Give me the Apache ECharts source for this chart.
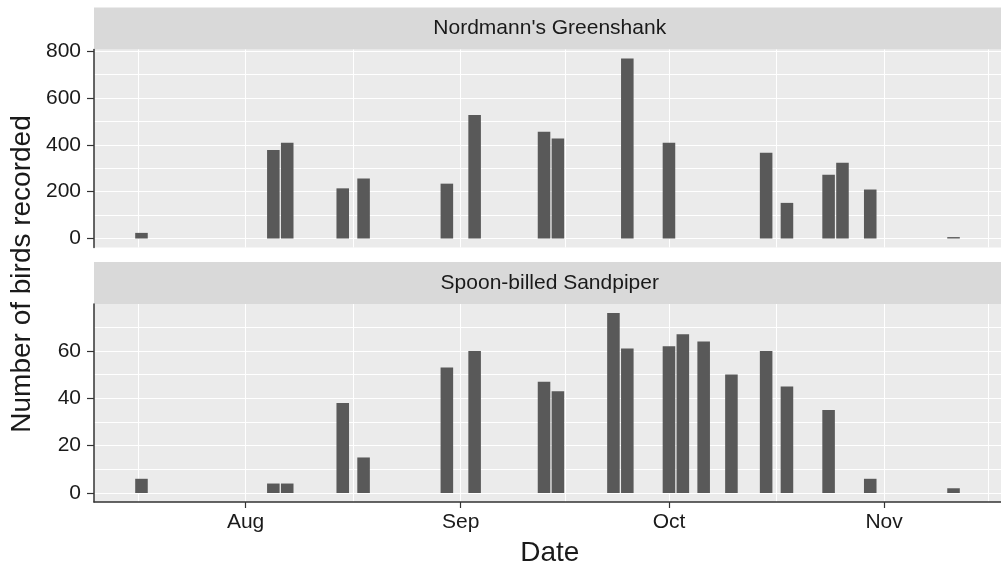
<!DOCTYPE html>
<html>
<head>
<meta charset="utf-8">
<script src="https://cdn.jsdelivr.net/npm/echarts@6/dist/echarts.min.js"></script>
<style>
html,body{margin:0;padding:0;background:#ffffff;}
#chart{width:1001px;height:574px;}
</style>
</head>
<body>
<div id="chart"></div>
<script>
// ---------------- data ----------------
const YEAR = 2016;
const dates = ['07-17','08-05','08-07','08-15','08-18','08-30','09-03','09-13','09-15','09-23','09-25',
               '10-01','10-03','10-06','10-10','10-15','10-18','10-24','10-26','10-30','11-11'];
const greenshank = [24, 378, 409, 214, 256, 234, 527, 456, 427, null, 768,
                    409, null, null, null, 366, 152, 272, 323, 209, 6];
const sandpiper  = [6, 4, 4, 38, 15, 53, 60, 47, 43, 76, 61,
                    62, 67, 64, 50, 60, 45, 35, null, 6, 2];
const panelTitles = ["Nordmann's Greenshank", "Spoon-billed Sandpiper"];
const monthTicks = ['08-01','09-01','10-01','11-01'];
const monthNames = ['Jan','Feb','Mar','Apr','May','Jun','Jul','Aug','Sep','Oct','Nov','Dec'];
const monthBounds = ['07-01','08-01','09-01','10-01','11-01','12-01'];
const greenshankTicks = [0, 200, 400, 600, 800];
const sandpiperTicks = [0, 20, 40, 60];
const yTitle = 'Number of birds recorded';
const xTitle = 'Date';

// ---------------- helpers ----------------
const DAY = 86400000;
const ts = s => Date.UTC(YEAR, +s.slice(0, 2) - 1, +s.slice(3));
const dateTs = dates.map(ts);
const barHalf = 0.9 * DAY;
const xLo = dateTs[0] - barHalf, xHi = dateTs[dateTs.length - 1] + barHalf;
const xPad = 0.05 * (xHi - xLo);
const xMin = xLo - xPad, xMax = xHi + xPad;
const majorX = monthTicks.map(ts);
const boundsTs = monthBounds.map(ts);
const minorX = [];
for (let i = 0; i < boundsTs.length - 1; i++) minorX.push((boundsTs[i] + boundsTs[i + 1]) / 2);
const allX = majorX.concat(minorX).filter(v => v >= xMin && v <= xMax);

function yRange(vals) {
  const mx = Math.max(...vals.filter(v => v != null));
  return [-0.05 * mx, mx * 1.05];
}
function yGrid(ticks, range) {
  const step = ticks[1] - ticks[0];
  const out = ticks.slice();
  for (let i = 0; i < ticks.length; i++) out.push(ticks[i] + step / 2);
  return out.filter(v => v >= range[0] && v <= range[1]);
}

const series = [greenshank, sandpiper];
const ticksList = [greenshankTicks, sandpiperTicks];
const ranges = series.map(yRange);

// ---------------- layout ----------------
const LEFT = 94, GW = 911.5;
const PANEL_TOP = [49.5, 304], PH = 198, STRIP_H = 42;
const pxPerDay = GW / ((xMax - xMin) / DAY);
const barW = 1.8 * pxPerDay;
const FONT = "'Liberation Sans', Arial, sans-serif";
const TXT = '#1a1a1a', AXC = '#333333';

const grids = [], xAxes = [], yAxes = [], sers = [], graphics = [];
for (let g = 0; g < 2; g++) {
  const bottomPanel = g === 1;
  grids.push({left: LEFT, top: PANEL_TOP[g], width: GW, height: PH, show: true,
              backgroundColor: '#EBEBEB', borderWidth: 0, containLabel: false});
  // main x axis
  xAxes.push({type: 'value', gridIndex: g, min: xMin, max: xMax, position: 'bottom',
    axisLine: {show: bottomPanel, onZero: false, lineStyle: {color: AXC, width: 1.5}},
    axisTick: {show: bottomPanel, length: 6, customValues: majorX, lineStyle: {color: AXC, width: 1.2}},
    axisLabel: {show: bottomPanel, customValues: majorX, margin: 10, color: TXT, fontSize: 21, fontFamily: FONT,
      formatter: v => monthNames[new Date(v).getUTCMonth()]},
    splitLine: {show: false}, minorSplitLine: {show: false}});
  // gridline x axis
  xAxes.push({type: 'value', gridIndex: g, min: xMin, max: xMax,
    axisLine: {show: false}, axisLabel: {show: false},
    axisTick: {show: false, customValues: allX},
    splitLine: {show: true, lineStyle: {color: '#ffffff', width: 1.1}}});
  // main y axis
  yAxes.push({type: 'value', gridIndex: g, min: ranges[g][0], max: ranges[g][1], position: 'left',
    axisLine: {show: true, onZero: false, lineStyle: {color: AXC, width: 1.5}},
    axisTick: {show: true, length: 7, customValues: ticksList[g], lineStyle: {color: AXC, width: 1.2}},
    axisLabel: {show: true, customValues: ticksList[g], margin: 13, color: TXT, fontSize: 21, fontFamily: FONT},
    splitLine: {show: false}});
  // gridline y axis
  yAxes.push({type: 'value', gridIndex: g, min: ranges[g][0], max: ranges[g][1],
    axisLine: {show: false}, axisLabel: {show: false},
    axisTick: {show: false, customValues: yGrid(ticksList[g], ranges[g])},
    splitLine: {show: true, lineStyle: {color: '#ffffff', width: 1.1}}});
  sers.push({type: 'bar', xAxisIndex: 2 * g, yAxisIndex: 2 * g, barWidth: barW,
    itemStyle: {color: '#595959'}, silent: true, animation: false,
    data: dateTs.map((t, i) => [t, series[g][i]])});
  // strip
  graphics.push({type: 'rect', left: LEFT, top: PANEL_TOP[g] - STRIP_H, silent: true,
    shape: {width: GW, height: STRIP_H}, style: {fill: '#D9D9D9'}});
  graphics.push({type: 'text', x: LEFT + GW / 2, y: PANEL_TOP[g] - STRIP_H / 2, silent: true,
    style: {text: panelTitles[g], fill: TXT, font: '21px ' + FONT, align: 'center', verticalAlign: 'middle'}});
}
graphics.push({type: 'text', x: 22, y: 274, rotation: Math.PI / 2, silent: true,
  style: {text: yTitle, fill: TXT, font: '28px ' + FONT, align: 'center', verticalAlign: 'middle'}});
graphics.push({type: 'text', x: LEFT + GW / 2, y: 553, silent: true,
  style: {text: xTitle, fill: TXT, font: '28px ' + FONT, align: 'center', verticalAlign: 'middle'}});

const chart = echarts.init(document.getElementById('chart'), null, {renderer: 'canvas'});
chart.setOption({
  animation: false,
  backgroundColor: '#ffffff',
  grid: grids, xAxis: xAxes, yAxis: yAxes, series: sers,
  graphic: graphics
});
</script>
</body>
</html>
